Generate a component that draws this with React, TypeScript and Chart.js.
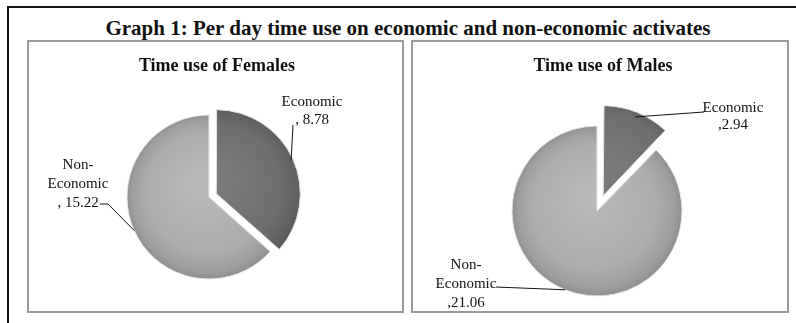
import React, { useEffect, useRef } from 'react';
import { Chart, registerables } from 'chart.js';

Chart.register(...registerables);

// ---------- data ----------
const categories = ['Economic', 'Non-Economic'];
const femaleValues = [8.78, 15.22];
const maleValues = [2.94, 21.06];
const mainTitle = 'Graph 1: Per day time use on economic and non-economic activates';
const femaleTitle = 'Time use of Females';
const maleTitle = 'Time use of Males';

const FONT = '"Liberation Serif", "Times New Roman", serif';

type LabelCfg = {
  line: [number, number][]; // leader points relative to pie centre (after rim anchor)
  text: [number, number]; // centre of first text line relative to pie centre
  spacing: number;
};

type PieCfg = {
  values: number[];
  radius: number;
  offsets: number[];
  padding: { left: number; right: number; top: number; bottom: number };
  valuePrefix: string;
  labels: LabelCfg[];
};

const femaleCfg: PieCfg = {
  values: femaleValues,
  radius: 82,
  offsets: [32, 0],
  padding: { left: 0, right: 13, top: 31, bottom: 0 },
  valuePrefix: ', ',
  labels: [
    { line: [[84, -72]], text: [103, -95], spacing: 18 },
    { line: [[-101, 7], [-109, 7]], text: [-131, -32], spacing: 19 },
  ],
};

const maleCfg: PieCfg = {
  values: maleValues,
  radius: 85,
  offsets: [66, 0],
  padding: { left: 0, right: 6, top: 59, bottom: 0 },
  valuePrefix: ',',
  labels: [
    { line: [[107, -99]], text: [136, -103], spacing: 17 },
    { line: [[-101, 76]], text: [-131, 54], spacing: 19 },
  ],
};

const darkStops: [number, string][] = [
  [0, '#7c7c7c'],
  [0.7, '#6e6e6e'],
  [0.9, '#606060'],
  [1, '#4e4e4e'],
];
const lightStops: [number, string][] = [
  [0, '#bababa'],
  [0.7, '#adadad'],
  [0.9, '#9d9d9d'],
  [1, '#8a8a8a'],
];

function midAngle(values: number[], i: number) {
  const total = values.reduce((a, b) => a + b, 0);
  let before = 0;
  for (let k = 0; k < i; k++) before += values[k];
  return -Math.PI / 2 + (2 * Math.PI * (before + values[i] / 2)) / total;
}

function PiePanel({ cfg, style }: { cfg: PieCfg; style: React.CSSProperties }) {
  const ref = useRef<HTMLCanvasElement | null>(null);

  useEffect(() => {
    if (!ref.current) return;

    const labelPlugin = {
      id: 'pieLabels',
      afterDatasetsDraw(chart: any) {
        const ctx = chart.ctx as CanvasRenderingContext2D;
        const meta = chart.getDatasetMeta(0);
        ctx.save();
        ctx.font = `15px ${FONT}`;
        ctx.fillStyle = '#111';
        ctx.strokeStyle = '#111';
        ctx.lineWidth = 1;
        ctx.textAlign = 'center';
        ctx.textBaseline = 'middle';
        meta.data.forEach((arc: any, i: number) => {
          const p = arc.getProps(['x', 'y', 'startAngle', 'endAngle', 'outerRadius'], true);
          const mid = (p.startAngle + p.endAngle) / 2;
          const shift = (cfg.offsets[i] || 0) / 4;
          const r = p.outerRadius + shift;
          const ax = p.x + Math.cos(mid) * r;
          const ay = p.y + Math.sin(mid) * r;
          const lc = cfg.labels[i];
          ctx.beginPath();
          ctx.moveTo(ax, ay);
          lc.line.forEach(([dx, dy]) => ctx.lineTo(p.x + dx, p.y + dy));
          ctx.stroke();
          const name: string = chart.data.labels[i];
          const lines: string[] = [];
          const hy = name.indexOf('-');
          if (hy >= 0) {
            lines.push(name.slice(0, hy + 1));
            lines.push(name.slice(hy + 1));
          } else {
            lines.push(name);
          }
          lines.push(cfg.valuePrefix + chart.data.datasets[0].data[i].toFixed(2));
          lines.forEach((t, k) => {
            ctx.fillText(t, p.x + lc.text[0], p.y + lc.text[1] + k * lc.spacing);
          });
        });
        ctx.restore();
      },
    };

    const fill = (c: any) => {
      const i = c.dataIndex ?? 0;
      const chart = c.chart;
      const area = chart.chartArea;
      const stops = i === 0 ? darkStops : lightStops;
      if (!area) return stops[1][1];
      const cx0 = (area.left + area.right) / 2;
      const cy0 = (area.top + area.bottom) / 2;
      const m = midAngle(cfg.values, i);
      const s = (cfg.offsets[i] || 0) / 4;
      const cx = cx0 + Math.cos(m) * s;
      const cy = cy0 + Math.sin(m) * s;
      const R = cfg.radius + 2;
      const g = chart.ctx.createRadialGradient(cx - 10, cy - 14, 4, cx, cy, R);
      stops.forEach(([o, col]) => g.addColorStop(o, col));
      return g;
    };

    const chart = new Chart(ref.current, {
      type: 'pie',
      data: {
        labels: categories,
        datasets: [
          {
            data: cfg.values,
            backgroundColor: fill,
            borderColor: '#e6e6e6',
            borderWidth: 1,
            offset: cfg.offsets,
            radius: cfg.radius,
          } as any,
        ],
      },
      options: {
        animation: false,
        responsive: false,
        maintainAspectRatio: false,
        events: [],
        radius: cfg.radius,
        layout: { padding: cfg.padding },
        plugins: {
          legend: { display: false },
          tooltip: { enabled: false },
          title: { display: false },
        },
      } as any,
      plugins: [labelPlugin],
    });
    return () => chart.destroy();
  }, [cfg]);

  const w = style.width as number;
  const h = style.height as number;
  return <canvas ref={ref} width={w} height={h} style={{ position: 'absolute', ...style }} />;
}

export default function App() {
  return (
    <div
      style={{
        position: 'fixed',
        left: 0,
        top: 0,
        width: 796,
        height: 323,
        overflow: 'hidden',
        background: '#ffffff',
        fontFamily: FONT,
      }}
    >
      {/* outer frame */}
      <div
        style={{
          position: 'absolute',
          left: 7,
          top: 6,
          width: 820,
          height: 340,
          border: '2px solid #151515',
          boxSizing: 'border-box',
        }}
      />
      <div
        style={{
          position: 'absolute',
          left: 8,
          top: 16,
          width: 800,
          lineHeight: '24px',
          textAlign: 'center',
          fontWeight: 'bold',
          fontSize: 21,
          color: '#111',
          whiteSpace: 'nowrap',
        }}
      >
        {mainTitle}
      </div>
      {/* panels */}
      <div
        style={{
          position: 'absolute',
          left: 27,
          top: 40,
          width: 377,
          height: 273,
          border: '2px solid #9a9a9a',
          boxSizing: 'border-box',
        }}
      />
      <div
        style={{
          position: 'absolute',
          left: 411,
          top: 40,
          width: 378,
          height: 273,
          border: '2px solid #9a9a9a',
          boxSizing: 'border-box',
        }}
      />
      <PiePanel cfg={femaleCfg} style={{ left: 27, top: 40, width: 377, height: 283 }} />
      <PiePanel cfg={maleCfg} style={{ left: 411, top: 40, width: 378, height: 283 }} />
      <div
        style={{
          position: 'absolute',
          left: 67,
          top: 54,
          width: 300,
          lineHeight: '22px',
          textAlign: 'center',
          fontWeight: 'bold',
          fontSize: 18,
          color: '#111',
        }}
      >
        {femaleTitle}
      </div>
      <div
        style={{
          position: 'absolute',
          left: 453,
          top: 54,
          width: 300,
          lineHeight: '22px',
          textAlign: 'center',
          fontWeight: 'bold',
          fontSize: 18,
          color: '#111',
        }}
      >
        {maleTitle}
      </div>
    </div>
  );
}
